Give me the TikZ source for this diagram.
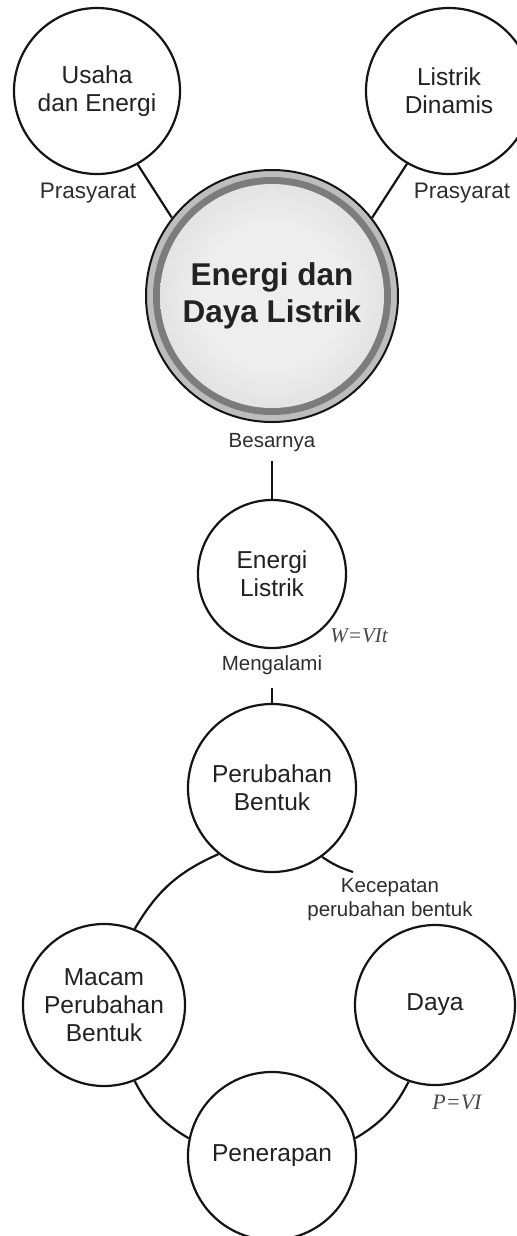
\documentclass[tikz,border=0pt]{standalone}
\usepackage{fontspec}
\setmainfont{Liberation Sans}
\newfontfamily\formulafont{Liberation Serif}

% palette
\definecolor{linecol}{HTML}{141414}
\definecolor{textcol}{HTML}{222222}
\definecolor{labcol}{HTML}{2E2E2E}
\definecolor{formcol}{HTML}{484848}
\definecolor{bandgray}{HTML}{BDBDBD}
\definecolor{ringgray}{HTML}{7C7C7C}
\definecolor{corecenter}{HTML}{EEEEEE}
\definecolor{coremid}{HTML}{D6D6D6}
\definecolor{coreedge}{HTML}{AFAFAF}

% soft radial fill for the central disc
\pgfdeclareradialshading{coreshade}{\pgfpoint{0bp}{0bp}}{%
  color(0bp)=(corecenter); color(16bp)=(corecenter);
  color(36bp)=(coremid); color(50bp)=(coreedge)}

\begin{document}
\begin{tikzpicture}[x=1bp, y=-1bp,
  bubble/.style={circle, draw=linecol, line width=2.2bp, fill=white,
    minimum size=#1, inner sep=0pt, align=center, text=textcol,
    font=\fontsize{24.5bp}{28bp}\selectfont},
  hub/.style={circle, draw=linecol, line width=2bp, fill=bandgray,
    minimum size=252bp, inner sep=0pt, align=center, text=textcol,
    font=\fontsize{31.5bp}{37bp}\selectfont\bfseries,
    path picture={
      \fill[ringgray] (path picture bounding box.center) circle[radius=119bp];
      \shade[shading=coreshade] (path picture bounding box.center) circle[radius=112bp];
    }},
  lab/.style={font=\fontsize{20.5bp}{24bp}\selectfont, text=labcol,
    inner sep=0pt, align=center},
  formula/.style={font=\fontsize{21bp}{24bp}\formulafont\itshape, text=formcol,
    inner sep=0pt},
  link/.style={draw=linecol, line width=2.2bp},
]
\useasboundingbox (0,0) rectangle (517,1236);

% concepts
\node[bubble=166bp] (usaha)   at (97,91)   {Usaha\\dan Energi};
\node[bubble=166bp] (dinamis) at (449,91)  {Listrik\\Dinamis};
\node[hub]          (main)    at (272,296) {Energi dan\\Daya Listrik};
\node[bubble=148bp] (el)      at (272,574) {Energi\\Listrik};
\node[bubble=168bp] (pb)      at (272,788) {Perubahan\\Bentuk};
\node[bubble=162bp] (macam)   at (104,1005) {Macam\\Perubahan\\Bentuk};
\node[bubble=160bp] (daya)    at (435,1005) {Daya};
\node[bubble=168bp] (pen)     at (272,1156) {Penerapan};

% link words
\node[lab, font=\fontsize{22.5bp}{26bp}\selectfont] (pras1) at (88,193) {Prasyarat};
\node[lab, font=\fontsize{22.5bp}{26bp}\selectfont] (pras2) at (462,193) {Prasyarat};
\node[lab, inner ysep=9bp]  (besar) at (272,443) {Besarnya};
\node[lab, inner ysep=13bp] (meng)  at (272,665) {Mengalami};
\node[lab] (kec) at (390,900) {Kecepatan\\perubahan bentuk};
\node[formula] (wvit) at (359,636) {W=VIt};
\node[formula, font=\fontsize{22bp}{24bp}\formulafont\itshape] (pvi) at (457,1102) {P=VI};

\coordinate (kectip) at (353,872);

% connectors
\draw[link] (usaha.-61) -- (main.142);
\draw[link] (dinamis.240) -- (main.38);
\draw[link] (besar) -- (el);
\draw[link] (meng) -- (pb);
\draw[link] (pb.231) to[bend right=18] (macam.68);
\draw[link] (pb.-54) to[bend right=8] (kectip);
\draw[link] (macam.-68) to[bend right=16] (pen.168);
\draw[link] (daya.251) to[bend left=16] (pen.12);
\end{tikzpicture}
\end{document}
